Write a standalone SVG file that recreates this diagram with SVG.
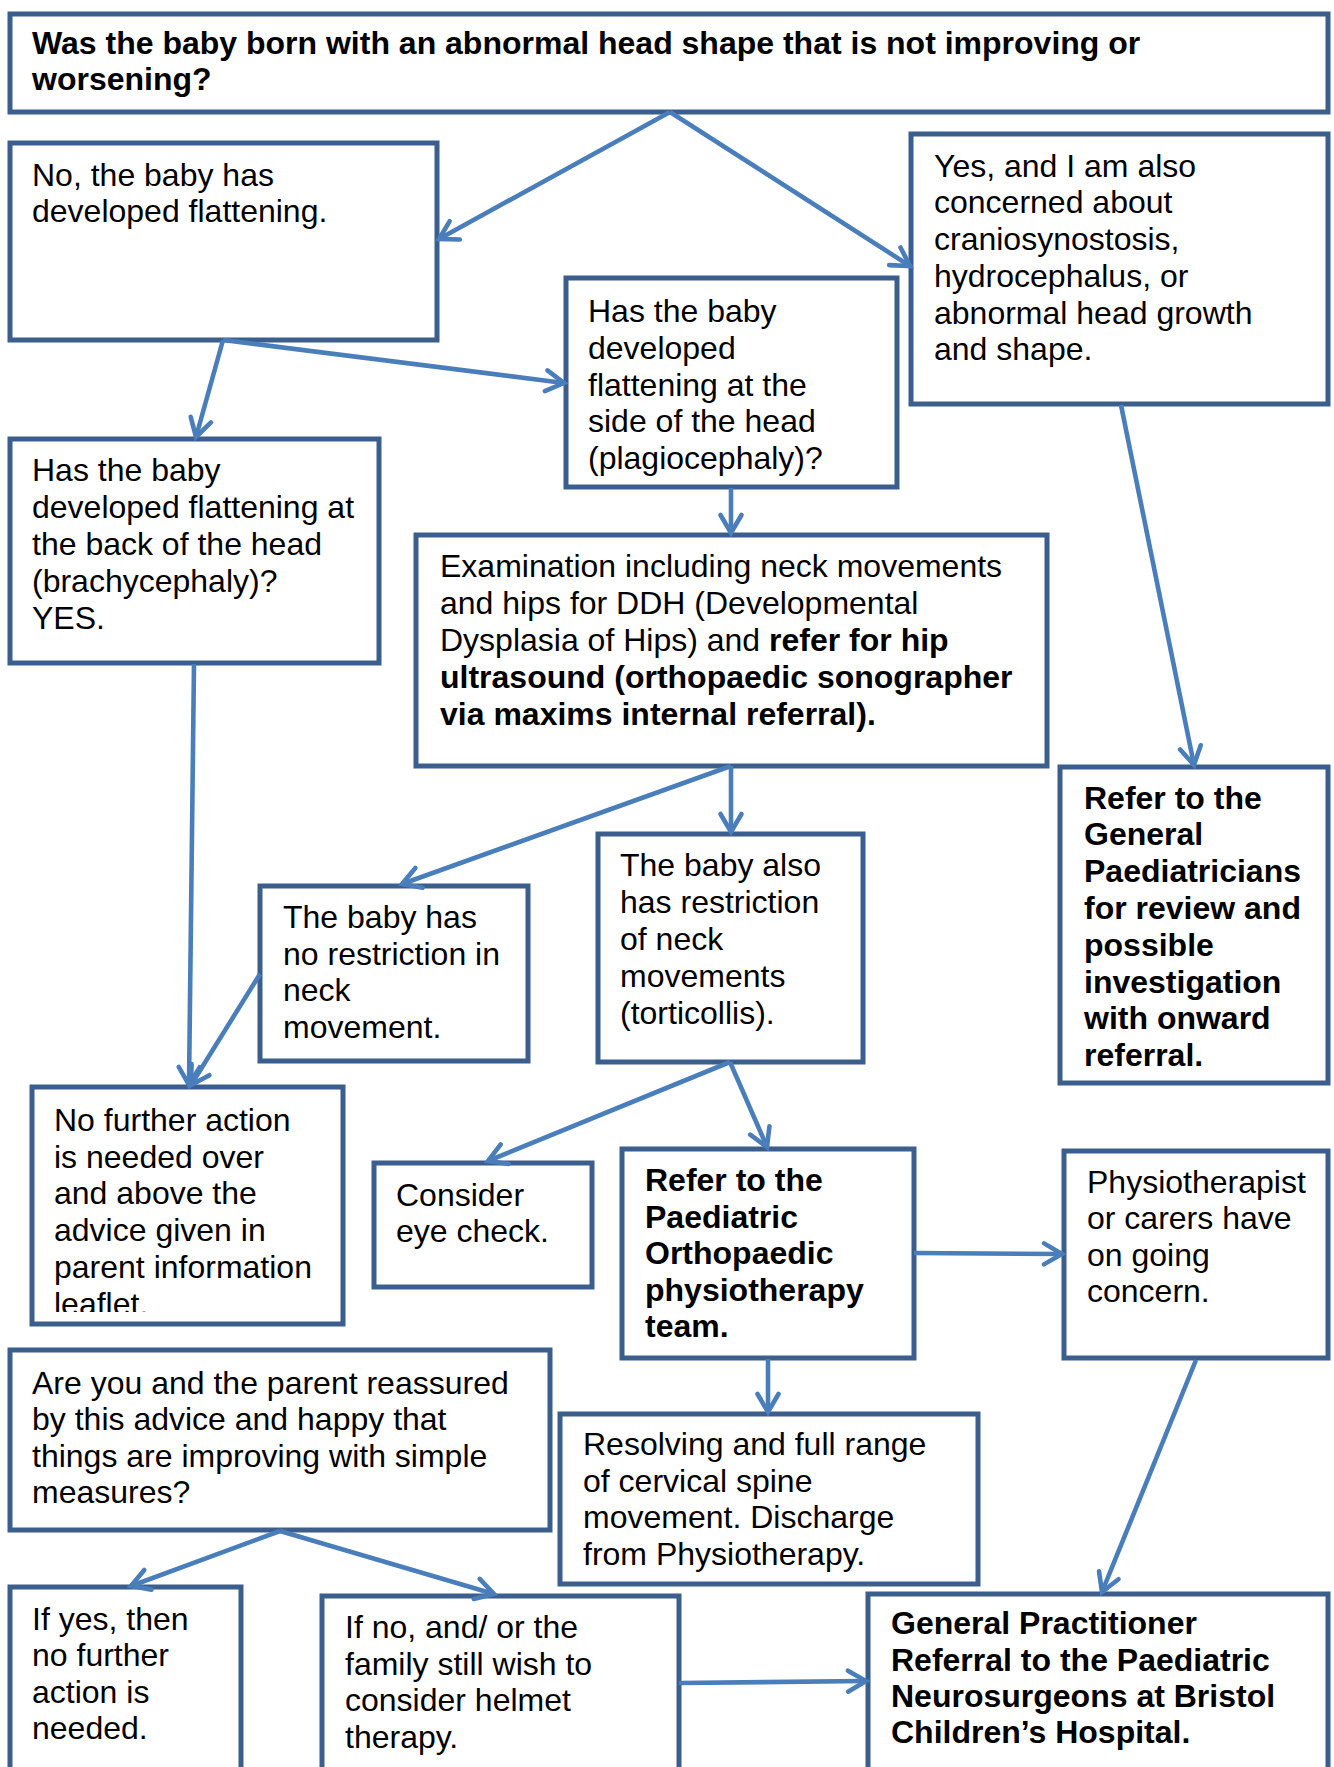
<svg xmlns="http://www.w3.org/2000/svg" width="1334" height="1767" viewBox="0 0 1334 1767">
<style>
.box{fill:#ffffff;stroke:#3B5E8C;stroke-width:5}
.t{font-family:"Liberation Sans",Arial,sans-serif;font-size:32px;fill:#000000}
.b{font-weight:bold}
.c{fill:none;stroke:#4A7EBB;stroke-width:4.6;marker-end:url(#ah)}
</style>
<defs>
<marker id="ah" markerUnits="userSpaceOnUse" markerWidth="40" markerHeight="40" viewBox="-20 -20 40 40" refX="0" refY="0" orient="auto" overflow="visible">
<path d="M-18,-10.5 L0,0 L-18,10.5" fill="none" stroke="#4A7EBB" stroke-width="4.6" stroke-linecap="round"/>
</marker>
<clipPath id="clipLeaflet"><rect x="30" y="1088" width="316" height="224"/></clipPath>
</defs>
<rect width="1334" height="1767" fill="#ffffff"/>

<g id="n1">
<rect class="box" x="10" y="14" width="1318" height="98"/>
<text class="t b" x="32" y="54">Was the baby born with an abnormal head shape that is not improving or</text>
<text class="t b" x="32" y="90">worsening?</text>
</g>

<g id="n2">
<rect class="box" x="10" y="143" width="427" height="197"/>
<text class="t" x="32" y="186">No, the baby has</text>
<text class="t" x="32" y="222">developed flattening.</text>
</g>

<g id="n3">
<rect class="box" x="566" y="278" width="331" height="209"/>
<text class="t" x="588" y="322">Has the baby</text>
<text class="t" x="588" y="359">developed</text>
<text class="t" x="588" y="396">flattening at the</text>
<text class="t" x="588" y="432">side of the head</text>
<text class="t" x="588" y="469">(plagiocephaly)?</text>
</g>

<g id="n4">
<rect class="box" x="911" y="134" width="417" height="270"/>
<text class="t" x="934" y="177">Yes, and I am also</text>
<text class="t" x="934" y="213">concerned about</text>
<text class="t" x="934" y="250">craniosynostosis,</text>
<text class="t" x="934" y="287">hydrocephalus, or</text>
<text class="t" x="934" y="324">abnormal head growth</text>
<text class="t" x="934" y="360">and shape.</text>
</g>

<g id="n5">
<rect class="box" x="10" y="439" width="369" height="224"/>
<text class="t" x="32" y="481">Has the baby</text>
<text class="t" x="32" y="518">developed flattening at</text>
<text class="t" x="32" y="555">the back of the head</text>
<text class="t" x="32" y="592">(brachycephaly)?</text>
<text class="t" x="32" y="629">YES.</text>
</g>

<g id="n6">
<rect class="box" x="416" y="535" width="631" height="231"/>
<text class="t" x="440" y="577">Examination including neck movements</text>
<text class="t" x="440" y="614">and hips for DDH (Developmental</text>
<text class="t" x="440" y="651">Dysplasia of Hips) and <tspan class="b">refer for hip</tspan></text>
<text class="t b" x="440" y="688">ultrasound (orthopaedic sonographer</text>
<text class="t b" x="440" y="725">via maxims internal referral).</text>
</g>

<g id="n7">
<rect class="box" x="1060" y="767" width="268" height="316"/>
<text class="t b" x="1084" y="809">Refer to the</text>
<text class="t b" x="1084" y="845">General</text>
<text class="t b" x="1084" y="882">Paediatricians</text>
<text class="t b" x="1084" y="919">for review and</text>
<text class="t b" x="1084" y="956">possible</text>
<text class="t b" x="1084" y="993">investigation</text>
<text class="t b" x="1084" y="1029">with onward</text>
<text class="t b" x="1084" y="1066">referral.</text>
</g>

<g id="n8">
<rect class="box" x="260" y="886" width="268" height="175"/>
<text class="t" x="283" y="928">The baby has</text>
<text class="t" x="283" y="965">no restriction in</text>
<text class="t" x="283" y="1001">neck</text>
<text class="t" x="283" y="1038">movement.</text>
</g>

<g id="n9">
<rect class="box" x="598" y="834" width="265" height="228"/>
<text class="t" x="620" y="876">The baby also</text>
<text class="t" x="620" y="913">has restriction</text>
<text class="t" x="620" y="950">of neck</text>
<text class="t" x="620" y="987">movements</text>
<text class="t" x="620" y="1024">(torticollis).</text>
</g>

<g id="n10">
<rect class="box" x="32" y="1087" width="311" height="237"/>
<g clip-path="url(#clipLeaflet)">
<text class="t" x="54" y="1131">No further action</text>
<text class="t" x="54" y="1168">is needed over</text>
<text class="t" x="54" y="1204">and above the</text>
<text class="t" x="54" y="1241">advice given in</text>
<text class="t" x="54" y="1278">parent information</text>
<text class="t" x="54" y="1315">leaflet.</text>
</g>
</g>

<g id="n11">
<rect class="box" x="10" y="1350" width="540" height="180"/>
<text class="t" x="32" y="1394">Are you and the parent reassured</text>
<text class="t" x="32" y="1430">by this advice and happy that</text>
<text class="t" x="32" y="1467">things are improving with simple</text>
<text class="t" x="32" y="1503">measures?</text>
</g>

<g id="n12">
<rect class="box" x="374" y="1163" width="218" height="124"/>
<text class="t" x="396" y="1205.5">Consider</text>
<text class="t" x="396" y="1241.5">eye check.</text>
</g>

<g id="n13">
<rect class="box" x="622" y="1149" width="292" height="209"/>
<text class="t b" x="645" y="1191">Refer to the</text>
<text class="t b" x="645" y="1228">Paediatric</text>
<text class="t b" x="645" y="1264">Orthopaedic</text>
<text class="t b" x="645" y="1301">physiotherapy</text>
<text class="t b" x="645" y="1337">team.</text>
</g>

<g id="n14">
<rect class="box" x="1064" y="1151" width="264" height="207"/>
<text class="t" x="1087" y="1193">Physiotherapist</text>
<text class="t" x="1087" y="1229">or carers have</text>
<text class="t" x="1087" y="1266">on going</text>
<text class="t" x="1087" y="1302">concern.</text>
</g>

<g id="n15">
<rect class="box" x="560" y="1414" width="418" height="170"/>
<text class="t" x="583" y="1455">Resolving and full range</text>
<text class="t" x="583" y="1492">of cervical spine</text>
<text class="t" x="583" y="1528">movement. Discharge</text>
<text class="t" x="583" y="1565">from Physiotherapy.</text>
</g>

<g id="n16">
<rect class="box" x="10" y="1587" width="231" height="240"/>
<text class="t" x="32" y="1630">If yes, then</text>
<text class="t" x="32" y="1666">no further</text>
<text class="t" x="32" y="1703">action is</text>
<text class="t" x="32" y="1739">needed.</text>
</g>

<g id="n17">
<rect class="box" x="322" y="1596" width="357" height="240"/>
<text class="t" x="345" y="1638">If no, and/ or the</text>
<text class="t" x="345" y="1675">family still wish to</text>
<text class="t" x="345" y="1711">consider helmet</text>
<text class="t" x="345" y="1748">therapy.</text>
</g>

<g id="n18">
<rect class="box" x="868" y="1594" width="460" height="240"/>
<text class="t b" x="891" y="1634">General Practitioner</text>
<text class="t b" x="891" y="1671">Referral to the Paediatric</text>
<text class="t b" x="891" y="1707">Neurosurgeons at Bristol</text>
<text class="t b" x="891" y="1743">Children’s Hospital.</text>
</g>

<g id="connectors">
<line class="c" x1="670" y1="112" x2="439" y2="239"/>
<line class="c" x1="670" y1="112" x2="910" y2="266"/>
<line class="c" x1="223" y1="340" x2="196" y2="437"/>
<line class="c" x1="223" y1="340" x2="564" y2="383"/>
<line class="c" x1="731" y1="488" x2="731" y2="533"/>
<line class="c" x1="1121" y1="405" x2="1194" y2="765"/>
<line class="c" x1="731" y1="766" x2="731" y2="832"/>
<line class="c" x1="731" y1="766" x2="402" y2="884"/>
<line class="c" x1="194" y1="664" x2="189" y2="1085"/>
<line class="c" x1="260" y1="974" x2="191" y2="1085"/>
<line class="c" x1="730" y1="1062" x2="488" y2="1161"/>
<line class="c" x1="730" y1="1062" x2="767" y2="1147"/>
<line class="c" x1="914" y1="1253" x2="1062" y2="1254"/>
<line class="c" x1="768" y1="1359" x2="768" y2="1412"/>
<line class="c" x1="1196" y1="1360" x2="1102" y2="1592"/>
<line class="c" x1="280" y1="1531" x2="131" y2="1586"/>
<line class="c" x1="280" y1="1531" x2="494" y2="1594"/>
<line class="c" x1="679" y1="1683" x2="866" y2="1681"/>
</g>
</svg>
